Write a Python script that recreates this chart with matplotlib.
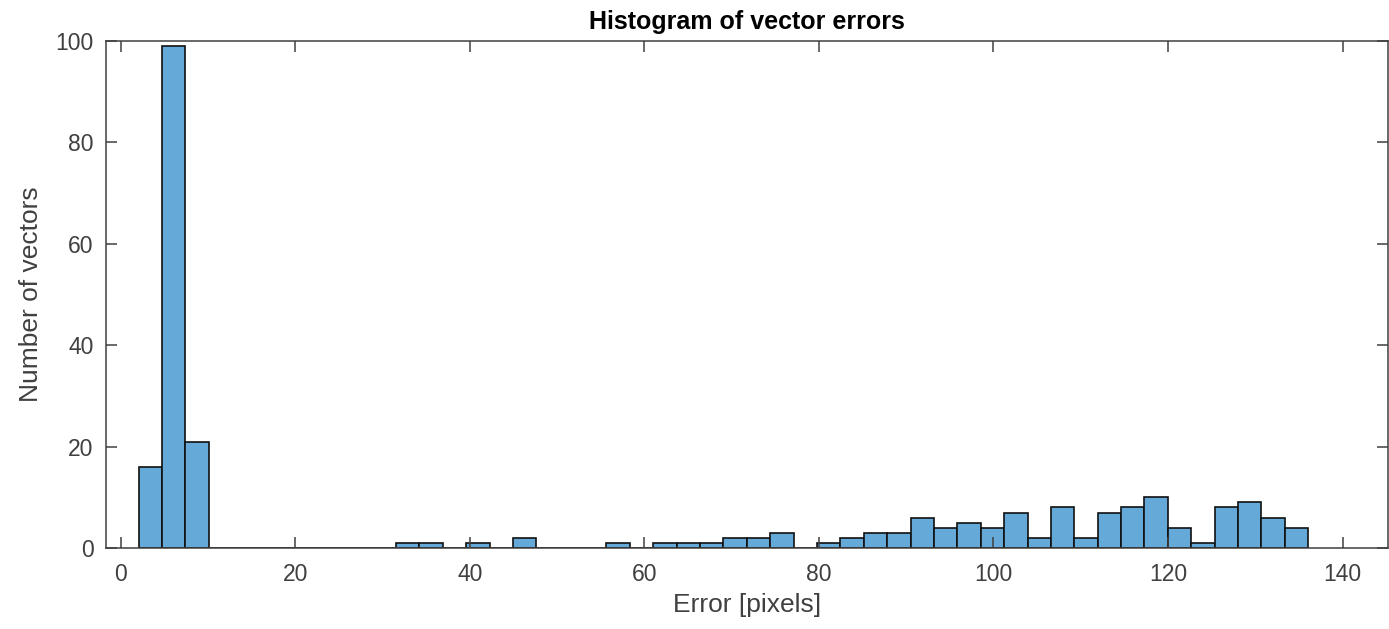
import numpy as np
import matplotlib
matplotlib.use('Agg')
import matplotlib.pyplot as plt

# bin layout: 50 bins starting at ~2.06, width ~2.68
bin_start = 2.06
bin_width = 2.68
counts = [16, 99, 21, 0, 0, 0, 0, 0, 0, 0,
          0, 1, 1, 0, 1, 0, 2, 0, 0, 0,
          1, 0, 1, 1, 1, 2, 2, 3, 0, 1,
          2, 3, 3, 6, 4, 5, 4, 7, 2, 8,
          2, 7, 8, 10, 4, 1, 8, 9, 6, 4]
xticks = [0, 20, 40, 60, 80, 100, 120, 140]
yticks = [0, 20, 40, 60, 80, 100]

plt.rcParams['font.family'] = ['Liberation Sans', 'DejaVu Sans']

edges = bin_start + bin_width * np.arange(len(counts) + 1)

fig = plt.figure(figsize=(13.89, 6.29), dpi=100)
ax = fig.add_axes([106 / 1389, 81 / 629, 1282 / 1389, 507 / 629])

ax.bar(edges[:-1], counts, width=np.diff(edges), align='edge',
       color='#64a9d7', edgecolor='#111111', linewidth=1.2)

ax.set_xlim(-1.68, 145.2)
ax.set_ylim(0, 100)
ax.set_xticks(xticks)
ax.set_yticks(yticks)

grey = '#404040'
for s in ax.spines.values():
    s.set_color(grey)
    s.set_linewidth(1.1)
ax.tick_params(direction='in', length=8, width=1.1, color=grey,
               top=True, right=True, labelsize=16.5, labelcolor='#404040')
ax.tick_params(axis='x', pad=11)
ax.tick_params(axis='y', pad=9)

ax.set_xlabel('Error [pixels]', fontsize=19, color='#404040', labelpad=5)
ax.set_ylabel('Number of vectors', fontsize=19, color='#404040', labelpad=9)
ax.set_title('Histogram of vector errors', fontsize=18, fontweight='bold', pad=9)

fig.savefig('out.png', dpi=100)
